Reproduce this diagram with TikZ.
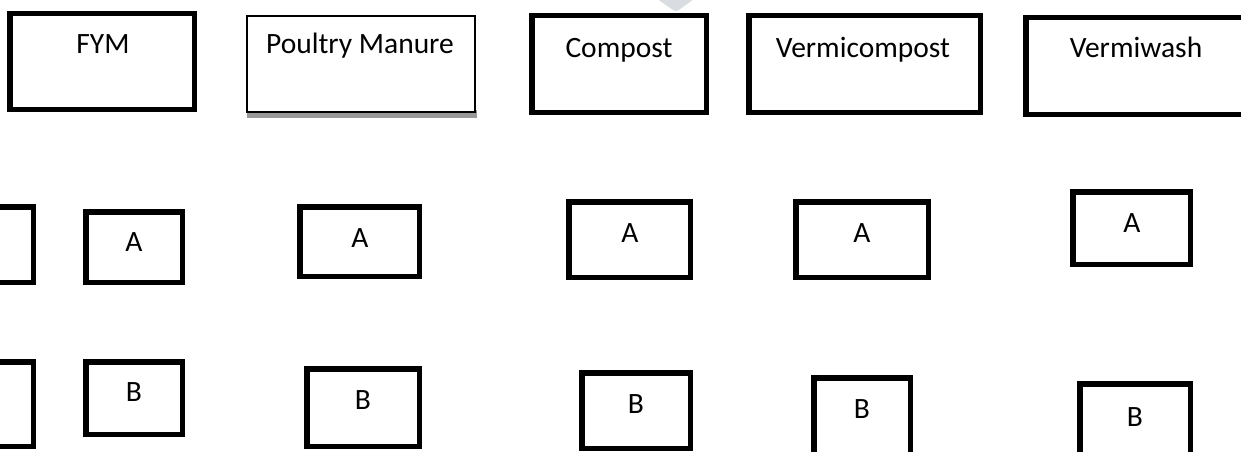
\documentclass[tikz,border=0pt]{standalone}
\usepackage{fontspec}
\setmainfont{Carlito}
\tikzset{
  box/.style={draw=black, line width=5.5pt, inner sep=0pt, outer sep=0pt, rectangle},
  thinbox/.style={draw=black, line width=2pt, fill=white, inner sep=0pt, outer sep=0pt, rectangle},
  lbl/.style={anchor=base, inner sep=0pt, font=\fontsize{29.5}{35}\selectfont, text=black},
}
% \bx[style]{name}{x1}{y1}{x2}{y2} : outer edges in px
\newcommand\bx[6][box]{%
  \node[#1, minimum width={(#5-#3-5.5)*1pt}, minimum height={(#6-#4-5.5)*1pt}]
    (#2) at ({(#3+#5)/2},{(#4+#6)/2}) {};}
\begin{document}
\begin{tikzpicture}[x=1pt, y=-1pt]
\useasboundingbox (0,0) rectangle (1241,452);
\clip (0,0) rectangle (1241,452);
\fill[white] (0,0) rectangle (1241,452);
% faint watermark
\fill[color={rgb,255:red,217;green,221;blue,226}, rounded corners=3pt] (650,-6) -- (701,-6) -- (676,12) -- cycle;
% top row
\bx{fym}{7}{11}{197}{112}
\node[lbl] (tfym) at (103,54) {FYM};
\fill[color={rgb,255:red,153;green,153;blue,153}] (247,110) rectangle (477,117.5);
\node[thinbox, minimum width=228pt, minimum height=96pt] (poultry) at (361,64) {};
\node[lbl] (tpoultry) at (360,54) {Poultry Manure};
\bx{compost}{529}{13}{709}{115}
\node[lbl] (tcompost) at (619,57) {Compost};
\bx{vermicompost}{746}{13}{983}{115}
\node[lbl] (tvermicompost) at (863,57) {Vermicompost};
\bx{vermiwash}{1023}{15}{1262}{117}
\node[lbl] (tvermiwash) at (1136,58) {Vermiwash};
% middle row
\bx{a0}{-30}{204}{36}{285}
\bx{a1}{83}{209}{185}{285}
\node[lbl] (ta1) at (134,251) {A};
\bx{a2}{297}{204}{422}{279}
\node[lbl] (ta2) at (360,247) {A};
\bx{a3}{566}{199}{693}{280}
\node[lbl] (ta3) at (630,242) {A};
\bx{a4}{793}{199}{931}{280}
\node[lbl] (ta4) at (862,242) {A};
\bx{a5}{1070}{189}{1193}{267}
\node[lbl] (ta5) at (1132,232) {A};
% bottom row
\bx{b0}{-30}{359}{36}{449}
\bx{b1}{83}{359}{185}{437}
\node[lbl] (tb1) at (134,401) {B};
\bx{b2}{304}{366}{422}{449}
\node[lbl] (tb2) at (363,409) {B};
\bx{b3}{579}{370}{693}{451}
\node[lbl] (tb3) at (636,413) {B};
\bx{b4}{811}{375}{913}{470}
\node[lbl] (tb4) at (862,418) {B};
\bx{b5}{1077}{381}{1193}{470}
\node[lbl] (tb5) at (1135,426) {B};
\end{tikzpicture}
\end{document}
